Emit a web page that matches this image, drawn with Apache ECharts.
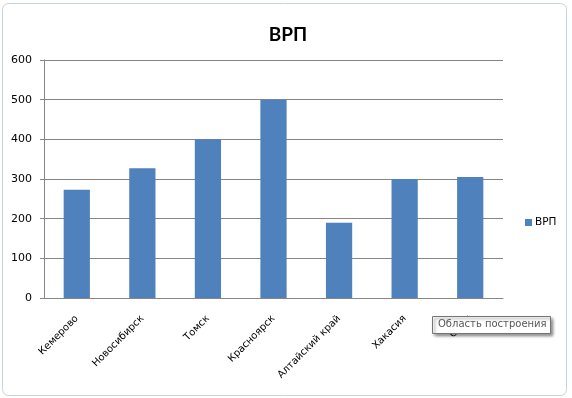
<!DOCTYPE html>
<html>
<head>
<meta charset="utf-8">
<script src="https://cdn.jsdelivr.net/npm/echarts@6/dist/echarts.min.js"></script>
<style>
  html, body { margin: 0; padding: 0; background: #fff; }
  #chart { width: 572px; height: 398px; }
</style>
</head>
<body>
<div id="chart"></div>
<script>
const regions = ['Кемерово', 'Новосибирск', 'Томск', 'Красноярск', 'Алтайский край', 'Хакасия', 'Омск'];
const vrp = [273, 327, 400, 500, 190, 300, 305];
const yTicks = [0, 100, 200, 300, 400, 500, 600];

const chart = echarts.init(document.getElementById('chart'));
const font = 'DejaVu Sans';
const option = {
    backgroundColor: '#fff',
    animation: false,
    title: {
        text: 'ВРП',
        left: 283,
        textAlign: 'center',
        top: 20,
        textStyle: { fontFamily: 'Lato', fontWeight: 'bold', fontSize: 19, color: '#000' },
    },
    legend: {
        orient: 'vertical',
        left: 520,
        top: 212,
        itemWidth: 7,
        itemHeight: 7,
        itemGap: 4,
        icon: 'rect',
        textStyle: { fontFamily: font, fontSize: 10.5, color: '#000', padding: [0, 0, 0, -2] },
        data: ['ВРП'],
    },
    grid: { left: 44, right: 69, top: 60, bottom: 100 },
    xAxis: {
        type: 'category',
        data: regions,
        axisLine: { lineStyle: { color: '#868686' } },
        axisTick: { length: 5, lineStyle: { color: '#868686' } },
        axisLabel: {
            rotate: 45,
            interval: 0,
            margin: 19,
            fontFamily: font,
            fontSize: 10,
            color: '#000',
        },
    },
    yAxis: {
        type: 'value',
        min: yTicks[0],
        max: yTicks[yTicks.length - 1],
        interval: 100,
        axisLine: { show: true, lineStyle: { color: '#868686' } },
        axisTick: { show: true, length: 4, lineStyle: { color: '#868686' } },
        splitLine: { lineStyle: { color: '#868686' } },
        axisLabel: { margin: 12, fontFamily: font, fontSize: 11, color: '#000' },
    },
    series: [
        {
            name: 'ВРП',
            type: 'bar',
            data: vrp,
            barWidth: '40%',
            itemStyle: { color: '#4f81bd' },
        },
    ],
    graphic: [
        {
            type: 'rect',
            shape: { x: 2.5, y: 3.5, width: 564, height: 392, r: 6 },
            style: { fill: 'none', stroke: '#c6d3e2', lineWidth: 1 },
            z: -1,
        },
        // подсказка Excel поверх подписи
        {
            type: 'rect',
            shape: { x: 432.5, y: 316.5, width: 118, height: 17 },
            style: {
                fill: '#fff',
                stroke: '#767676',
                lineWidth: 1,
                shadowBlur: 3,
                shadowOffsetX: 2,
                shadowOffsetY: 2,
                shadowColor: 'rgba(0,0,0,0.45)',
            },
            z: 101,
        },
        {
            type: 'text',
            left: 438,
            top: 319,
            style: { text: 'Область построения', fontFamily: font, fontSize: 10, fill: '#575757' },
            z: 102,
        },
    ],
};
chart.setOption(option);
</script>
</body>
</html>
